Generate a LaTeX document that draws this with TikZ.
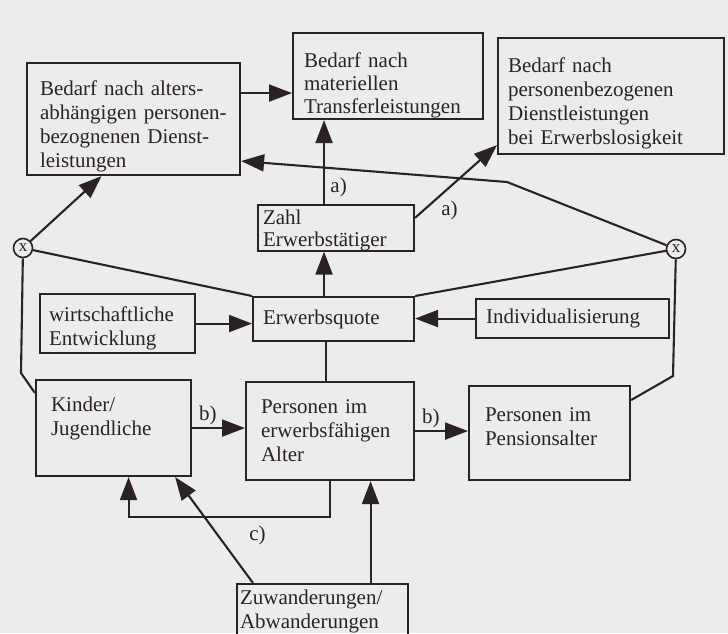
\documentclass[tikz,border=0pt]{standalone}
\usepackage{fontspec}
\setmainfont{Liberation Serif}
\usetikzlibrary{arrows.meta,calc}
\definecolor{papier}{HTML}{ECECEA}
\definecolor{tinte}{HTML}{2A2226}

\begin{document}
\begin{tikzpicture}[x=1pt,y=-1pt,line width=2.1pt,
  every node/.style={font=\fontsize{21}{24}\selectfont,text=tinte},
  kasten/.style={draw=tinte,anchor=north west,align=left,inner xsep=12pt,inner ysep=1pt},
  pfeil/.style={draw=tinte,-{Triangle[length=23pt,width=17pt]}},
  linie/.style={draw=tinte},
  mal/.style={draw=tinte,circle,line width=1.6pt,inner sep=0pt,minimum size=19pt,font=\fontsize{17}{17}\selectfont}]
  \fill[papier] (0,0) rectangle (728,633);
  \useasboundingbox (0,0) rectangle (728,633);

  % obere Reihe
  \node[kasten,inner xsep=13pt,text width=187pt,minimum height=112pt] (alt) at (26,62)
    {\rule{0pt}{30pt}Bedarf nach alters-\\abhängigen~personen-\\bezognenen Dienst-\\leistungen};
  \node[kasten,inner xsep=11pt,text width=168pt,minimum height=86pt,font=\fontsize{21}{23}\selectfont] (transfer) at (292,32)
    {\rule{0pt}{33pt}Bedarf nach\\materiellen\\Transferleistungen};
  \node[kasten,inner xsep=10pt,text width=206pt,minimum height=116pt] (loser) at (497,37)
    {\rule{0pt}{30pt}Bedarf nach\\personenbezogenen\\Dienstleistungen\\bei~Erwerbslosigkeit};
  \node[kasten,inner xsep=5pt,inner ysep=0pt,text width=146pt,minimum height=45pt,font=\fontsize{21}{22}\selectfont] (zahl) at (257,204)
    {\rule{0pt}{19pt}Zahl\\Erwerbstätiger};

  % mitte
  \node[kasten,inner xsep=10pt,text width=141pt,minimum height=44pt] (erwq) at (252,296) {Erwerbsquote};
  \node[kasten,inner xsep=9pt,text width=137pt,minimum height=59pt] (wirt) at (39,293)
    {\rule{0pt}{24pt}wirtschaftliche\\Entwicklung};
  \node[kasten,inner xsep=10pt,text width=173pt,minimum height=39pt] (indiv) at (475,298) {Individualisierung};
  \node[mal] (xl) at (23,248) {x};
  \node[mal] (xr) at (676,249) {x};

  % untere Reihe
  \node[kasten,inner xsep=15pt,text width=125pt,minimum height=96pt,text depth=48pt] (kinder) at (35,379)
    {Kinder/\\Jugendliche};
  \node[kasten,inner xsep=15pt,text width=138pt,minimum height=98pt] (erwf) at (245,381)
    {Personen im\\erwerbsfähigen\\Alter};
  \node[kasten,inner xsep=16pt,text width=129pt,minimum height=94pt,text depth=37pt] (pension) at (468,385)
    {Personen im\\Pensionsalter};
  \node[kasten,inner xsep=3pt,text width=165pt,minimum height=62pt,text depth=36pt] (wander) at (236,583)
    {Zuwanderungen/\\Abwanderungen};

  \coordinate (knick) at (507,182);
  \coordinate (ul) at (21,373);
  \coordinate (ur) at (673,376);

  % pfeile
  \draw[pfeil] ([yshift=26pt]alt.east) -- ([yshift=26pt]alt.east -| transfer.west);
  \draw[pfeil] ([xshift=-12pt]zahl.north) -- ([xshift=-12pt]zahl.north |- transfer.south)
    node[pos=.2,right=2pt] {a)};
  \draw[pfeil] ([yshift=10pt]zahl.east) -- ([yshift=10pt]loser.south west)
    node[pos=.28,below right=-1pt] {a)};
  \draw[pfeil] (xr) -- (knick) -- ([yshift=-42pt]alt.east);
  \draw[pfeil] (xl) -- ([xshift=-32pt]alt.south);
  \draw[linie] (erwq.north west) -- (xl);
  \draw[linie] (erwq.north east) -- (xr);
  \draw[linie] (xl) -- (ul) -- ([yshift=35pt]kinder.west);
  \draw[linie] (xr) -- (ur) -- ([yshift=33pt]pension.east);
  \draw[pfeil] ([xshift=-12pt]zahl.south |- erwq.north) -- ([xshift=-12pt]zahl.south);
  \draw[pfeil] (wirt.east) -- (wirt.east -| erwq.west);
  \draw[pfeil] (indiv.west) -- (indiv.west -| erwq.east);
  \draw[linie] ([xshift=-4pt]erwf.north) -- ([xshift=-4pt]erwf.north |- erwq.south);
  \draw[pfeil] (kinder.east) -- (kinder.east -| erwf.west) node[pos=.3,above=-1pt] {b)};
  \draw[pfeil] (erwf.east) -- (erwf.east -| pension.west) node[pos=.3,above=-1pt] {b)};
  \draw[pfeil] (erwf.south) -- ++(0,36) -| ([xshift=15pt]kinder.south)
    node[pos=.18,below=4pt] {c)};
  \draw[pfeil] ([xshift=17pt]wander.north west) -- ([xshift=-17pt]kinder.south east);
  \draw[pfeil] ([xshift=48pt]wander.north) -- ([xshift=48pt]wander.north |- erwf.south);
\end{tikzpicture}
\end{document}
